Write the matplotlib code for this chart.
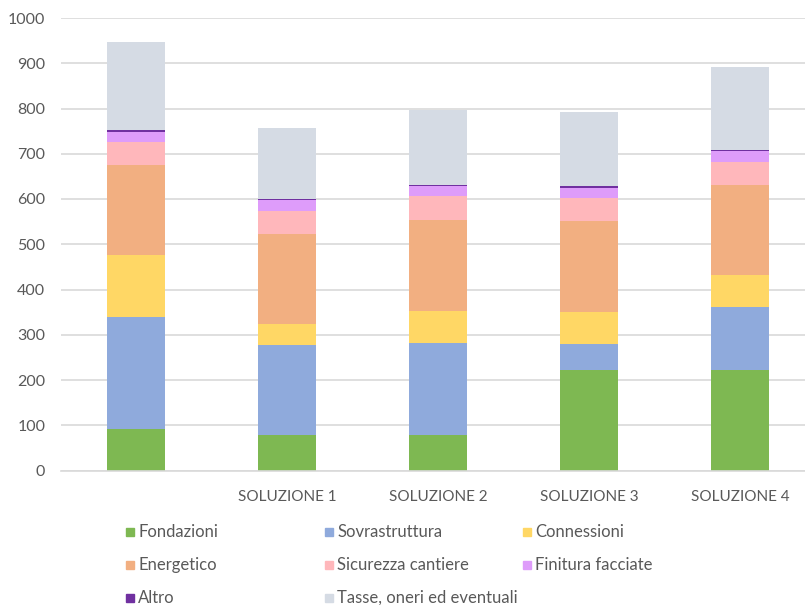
import numpy as np
import matplotlib.pyplot as plt
from matplotlib.patches import Rectangle

plt.rcParams['font.family'] = ['Lato', 'DejaVu Sans']

# data
categories = ['', 'SOLUZIONE 1', 'SOLUZIONE 2', 'SOLUZIONE 3', 'SOLUZIONE 4']
series = ['Fondazioni', 'Sovrastruttura', 'Connessioni', 'Energetico',
          'Sicurezza cantiere', 'Finitura facciate', 'Altro', 'Tasse, oneri ed eventuali']
fondazioni = [92, 79, 79, 221, 221]
sovrastruttura = [247, 199, 203, 59, 140]
connessioni = [137, 45, 71, 71, 71]
energetico = [199, 200, 201, 200, 200]
sicurezza = [50, 51, 52, 52, 50]
finitura = [23, 23, 23, 21, 23]
altro = [4, 3, 3, 4, 3]
tasse = [194, 158, 165, 164, 184]
colors = ['#7EB852', '#8FAADC', '#FFD765', '#F2AF81',
          '#FFB7BB', '#DE9CFA', '#7030A0', '#D5DBE4']

values = [fondazioni, sovrastruttura, connessioni, energetico,
          sicurezza, finitura, altro, tasse]

fig = plt.figure(figsize=(8.05, 6.05), dpi=100)
ax = fig.add_axes([60.5 / 805, 134.5 / 605, 755 / 805, 452.5 / 605])

x = np.arange(len(categories))
bottom = np.zeros(len(categories))
for name, vals, c in zip(series, values, colors):
    ax.bar(x, vals, 0.39, bottom=bottom, color=c, label=name, zorder=3)
    bottom += np.array(vals)

ax.set_xlim(-0.5, 4.5)
ax.set_ylim(0, 1000)
ax.set_yticks(range(0, 1001, 100))
ax.set_xticks(x)
ax.set_xticklabels(categories)
ax.grid(axis='y', color='#D9D9D9', linewidth=1.2, zorder=0)
for s in ['top', 'right', 'left']:
    ax.spines[s].set_visible(False)
ax.spines['bottom'].set_color('#D9D9D9')
ax.spines['bottom'].set_linewidth(1.2)
ax.spines['bottom'].set_zorder(4)
ax.tick_params(axis='both', length=0, colors='#595959', labelsize=11)
ax.tick_params(axis='y', labelsize=11.5, pad=11)
ax.tick_params(axis='x', pad=14)

# legend, 3 per row
col_x = [130, 329, 527]
row_y = [532, 565, 598]
for i, (name, c) in enumerate(zip(series, colors)):
    cx = col_x[i % 3]
    cy = row_y[i // 3]
    fig.patches.append(Rectangle(((cx - 4) / 805, 1 - (cy + 4) / 605), 8 / 805, 8 / 605,
                                 transform=fig.transFigure, color=c, figure=fig))
    fig.text((cx + 8) / 805, 1 - cy / 605, name, fontsize=12, color='#595959',
             va='center', ha='left')

fig.savefig('out.png', dpi=100)
